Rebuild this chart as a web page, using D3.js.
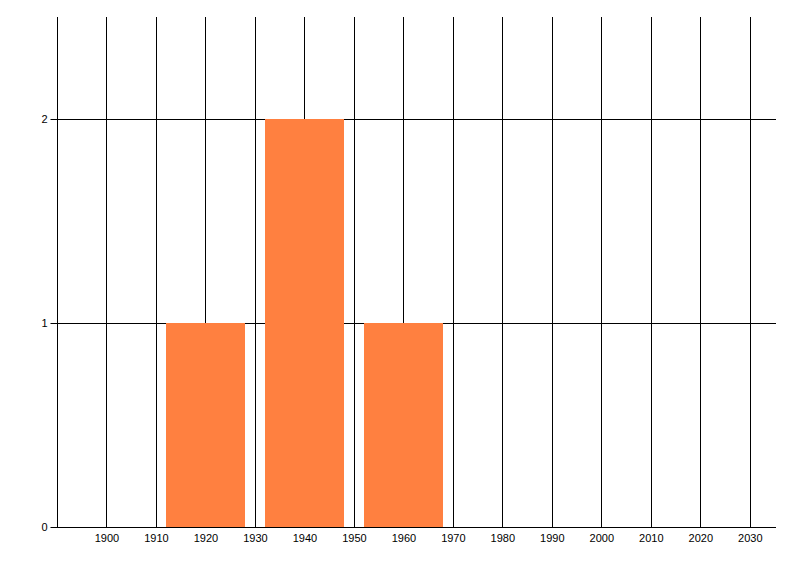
<!DOCTYPE html>
<html>
<head>
<meta charset="utf-8">
<script src="https://cdn.jsdelivr.net/npm/d3@7"></script>
<style>
  body { margin: 0; background: #fff; }
  svg { display: block; }
  .tick text { font-family: "Liberation Sans", Arial, sans-serif; font-size: 11px; fill: #000; }
</style>
</head>
<body>
<div id="plot"></div>
<script>
  // data
  var decades = [1920, 1940, 1960];
  var counts = [1, 2, 1];
  var binWidth = 16;
  var xTicks = [1900, 1910, 1920, 1930, 1940, 1950, 1960, 1970, 1980, 1990, 2000, 2010, 2020, 2030];
  var yTicks = [0, 1, 2];

  var margin = {top: 17, right: 24, bottom: 49, left: 57};
  var width = 800 - margin.left - margin.right,
      height = 576 - margin.top - margin.bottom;

  var svg = d3.select("#plot")
      .append("svg")
      .attr("width", 800)
      .attr("height", 576);

  var x = d3.scaleLinear().domain([1890, 2035.3]).range([0, width]),
      y = d3.scaleLinear().domain([0, 2.5]).range([height, 0]);

  var g = svg.append("g")
    .attr("transform", "translate(" + margin.left + "," + margin.top + ")");

  // vertical grid
  g.selectAll(".vgrid")
    .data(xTicks)
    .enter().append("line")
      .attr("x1", function(d) { return Math.round(x(d)) + 0.5; })
      .attr("x2", function(d) { return Math.round(x(d)) + 0.5; })
      .attr("y1", 0)
      .attr("y2", height)
      .attr("stroke", "#000");

  // horizontal grid
  g.selectAll(".hgrid")
    .data(yTicks.slice(1))
    .enter().append("line")
      .attr("x1", 0)
      .attr("x2", width)
      .attr("y1", function(d) { return Math.round(y(d)) + 0.5; })
      .attr("y2", function(d) { return Math.round(y(d)) + 0.5; })
      .attr("stroke", "#000");

  // bars
  g.selectAll(".bar")
    .data(decades)
    .enter().append("rect")
      .attr("x", function(d) { return Math.round(x(d - binWidth / 2)); })
      .attr("width", function(d) { return Math.round(x(d + binWidth / 2)) - Math.round(x(d - binWidth / 2)); })
      .attr("y", function(d, i) { return Math.round(y(counts[i])); })
      .attr("height", function(d, i) { return height - Math.round(y(counts[i])); })
      .style("fill", "#ff8040");

  var xAxis = d3.axisBottom(x).tickValues(xTicks).tickFormat(d3.format("")).tickSize(0).tickPadding(7);
  var yAxis = d3.axisLeft(y).tickValues(yTicks).tickFormat(d3.format("d")).tickSize(7).tickPadding(3);

  var gx = g.append("g")
    .attr("transform", "translate(0," + (height + 0.5) + ")")
    .call(xAxis);
  gx.select(".domain").attr("d", "M0,0H" + width).attr("stroke", "#000");

  var gy = g.append("g")
    .attr("transform", "translate(0.5,0)")
    .call(yAxis);
  gy.select(".domain").attr("d", "M0,0V" + height).attr("stroke", "#000");
  gy.selectAll(".tick line").attr("stroke", "#000");
</script>
</body>
</html>
